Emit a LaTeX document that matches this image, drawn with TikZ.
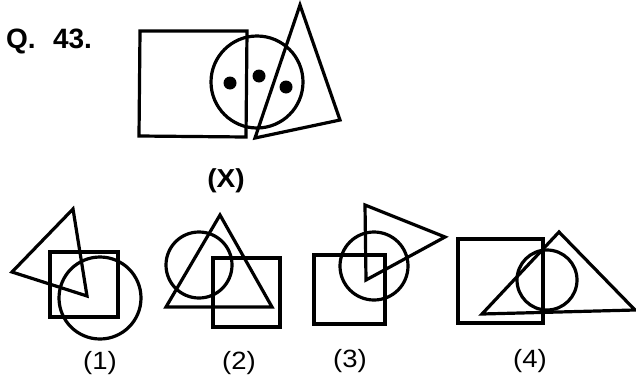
\documentclass[tikz,border=0pt]{standalone}
\usepackage{fontspec}
\setmainfont{Liberation Sans}
\begin{document}
\begin{tikzpicture}[x=1pt,y=-1pt,
  shp/.style={draw=black,line width=3.2pt,line join=miter},
  dot/.style={circle,fill=black,inner sep=0pt,minimum size=13pt},
  lbl/.style={font=\fontsize{25}{28}\selectfont,inner sep=0pt,xscale=1.1},
  blbl/.style={font=\bfseries\fontsize{26}{30}\selectfont,inner sep=0pt,xscale=1.08}]
\useasboundingbox (0,0) rectangle (636,383);
% title
\node[font=\bfseries\fontsize{28}{32}\selectfont,inner sep=0pt,anchor=base west] (q) at (6,48) {Q.\hspace{0.62em}43.};
% Figure X
\draw[shp] (140,31) -- (247,31) -- (246,137) -- (139,136) -- cycle;
\draw[shp] (257,82) circle (46);
\node[dot] (d1) at (230,83) {};
\node[dot] (d2) at (259,76) {};
\node[dot] (d3) at (286,87) {};
\draw[shp] (300,5) -- (340,120) -- (255,138) -- cycle;
\node[blbl] (x) at (226,181) {(X)};
% Figure 1
\draw[shp] (50,252) rectangle (118,317);
\draw[shp] (100,298) circle (41);
\draw[shp] (73,209) -- (87,296) -- (12,272) -- cycle;
\node[lbl] (l1) at (100,363) {(1)};
% Figure 2
\draw[shp] (199,265) circle (33);
\draw[shp] (220,215) -- (272,307) -- (166,307) -- cycle;
\draw[shp] (213,258) rectangle (280,327);
\node[lbl] (l2) at (239,363) {(2)};
% Figure 3
\draw[shp] (314,255) rectangle (385,324);
\draw[shp] (374,266) circle (34);
\draw[shp] (365,205) -- (445,237) -- (366,280) -- cycle;
\node[lbl] (l3) at (350,361) {(3)};
% Figure 4
\draw[shp] (458,239) rectangle (543,323);
\draw[shp] (547,280) circle (30);
\draw[shp] (559,232) -- (635,310) -- (482,314) -- cycle;
\node[lbl] (l4) at (530,361) {(4)};
\end{tikzpicture}
\end{document}
